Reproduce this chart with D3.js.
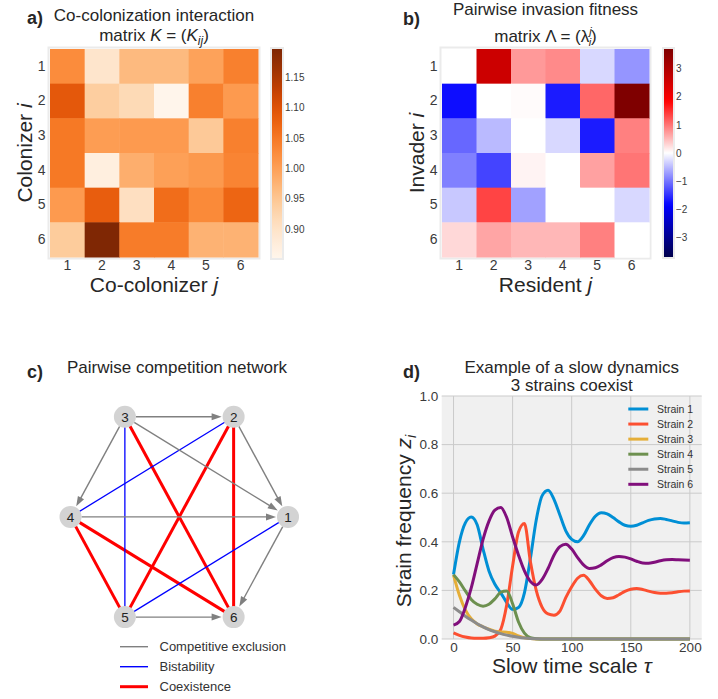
<!DOCTYPE html>
<html>
<head>
<meta charset="utf-8">
<script src="https://cdn.jsdelivr.net/npm/d3@7"></script>
<style>
  body { margin: 0; background: #fff; }
  svg text { font-family: "Liberation Sans", Arial, sans-serif; }
</style>
</head>
<body>
<svg id="fig" width="718" height="699"></svg>
<script>
// ---- data ----
const strainLabels = ['1', '2', '3', '4', '5', '6'];

// co-colonization interaction matrix K (row = colonizer i, col = co-colonizer j)
const kMatrix = [
  [1.025, 0.895, 0.966, 0.966, 0.997, 1.040],
  [1.090, 0.938, 0.918, 0.852, 1.040, 1.007],
  [1.049, 1.004, 1.007, 1.007, 0.945, 1.040],
  [1.049, 0.869, 0.981, 1.000, 1.009, 1.035],
  [1.007, 1.083, 0.907, 1.063, 1.028, 1.073],
  [0.942, 1.197, 1.045, 1.045, 0.976, 0.976]
];
const kTicks = [0.90, 0.95, 1.00, 1.05, 1.10, 1.15];

// pairwise invasion fitness matrix (row = invader i, col = resident j)
const lambdaMatrix = [
  [0.00, 2.58, 0.74, 0.85, -0.28, -0.77],
  [-1.75, 0.00, 0.03, -1.65, 1.10, 3.69],
  [-1.10, -0.50, 0.00, -0.28, -1.65, 0.92],
  [-0.92, -1.35, 0.09, 0.00, 0.68, 1.00],
  [-0.40, 1.35, -0.68, 0.00, 0.00, -0.28],
  [0.28, 0.65, 0.52, 0.52, 0.92, 0.00]
];
const lambdaTicks = [-3, -2, -1, 0, 1, 2, 3];

// pairwise competition network
const exclusionEdges = [['3', '2'], ['3', '4'], ['3', '1'], ['2', '1'], ['4', '1'], ['1', '6'], ['5', '6']];
const bistableEdges = [['2', '4'], ['3', '5'], ['1', '5']];
const coexistEdges = [['3', '6'], ['2', '5'], ['2', '6'], ['4', '5'], ['4', '6']];
const networkLegend = ['Competitive exclusion', 'Bistability', 'Coexistence'];

// slow dynamics
const timePoints = [0, 5, 10, 15, 20, 25, 30, 35, 40, 45, 50, 55, 60, 65, 70, 75, 80, 85, 90, 95, 100,
  105, 110, 115, 120, 125, 130, 135, 140, 145, 150, 155, 160, 165, 170, 175, 180, 185, 190, 195, 200];
const strain1 = [0.265, 0.40, 0.478, 0.502, 0.47, 0.37, 0.28, 0.225, 0.19, 0.15, 0.122, 0.13, 0.19, 0.33, 0.49, 0.59, 0.612,
  0.575, 0.51, 0.445, 0.41, 0.40, 0.425, 0.47, 0.505, 0.52, 0.515, 0.50, 0.482, 0.468, 0.464, 0.468, 0.478, 0.488,
  0.494, 0.496, 0.492, 0.486, 0.48, 0.477, 0.478];
const strain2 = [0.025, 0.015, 0.008, 0.004, 0.003, 0.003, 0.005, 0.012, 0.04, 0.14, 0.30, 0.44, 0.475, 0.32, 0.20, 0.13,
  0.103, 0.098, 0.115, 0.17, 0.215, 0.25, 0.262, 0.24, 0.205, 0.178, 0.167, 0.17, 0.182, 0.196, 0.205, 0.208, 0.204,
  0.197, 0.191, 0.188, 0.188, 0.19, 0.194, 0.197, 0.198];
const strain3 = [0.263, 0.18, 0.12, 0.083, 0.062, 0.05, 0.04, 0.032, 0.029, 0.028, 0.023, 0.013, 0.005, 0.002, 0.0005, 0,
  0, 0, 0, 0, 0, 0, 0, 0, 0, 0, 0, 0, 0, 0, 0, 0, 0, 0, 0, 0, 0, 0, 0, 0, 0];
const strain4 = [0.265, 0.235, 0.198, 0.163, 0.143, 0.135, 0.143, 0.165, 0.193, 0.198, 0.145, 0.07, 0.024, 0.005, 0.001, 0,
  0, 0, 0, 0, 0, 0, 0, 0, 0, 0, 0, 0, 0, 0, 0, 0, 0, 0, 0, 0, 0, 0, 0, 0, 0];
const strain5 = [0.13, 0.112, 0.094, 0.078, 0.063, 0.05, 0.039, 0.03, 0.022, 0.016, 0.011, 0.007, 0.004, 0.002, 0.001, 0,
  0, 0, 0, 0, 0, 0, 0, 0, 0, 0, 0, 0, 0, 0, 0, 0, 0, 0, 0, 0, 0, 0, 0, 0, 0];
const strain6 = [0.057, 0.072, 0.13, 0.21, 0.31, 0.41, 0.485, 0.53, 0.541, 0.50, 0.42, 0.345, 0.28, 0.237, 0.222, 0.245,
  0.29, 0.345, 0.38, 0.39, 0.37, 0.335, 0.305, 0.29, 0.293, 0.305, 0.322, 0.335, 0.34, 0.337, 0.33, 0.32, 0.313,
  0.312, 0.316, 0.322, 0.326, 0.327, 0.326, 0.325, 0.324];
const strainNames = ['Strain 1', 'Strain 2', 'Strain 3', 'Strain 4', 'Strain 5', 'Strain 6'];
const timeTicks = [0, 50, 100, 150, 200];
const freqTicks = [0, 0.2, 0.4, 0.6, 0.8, 1.0];

// ---- styles ----
const strainColors = ['#008fd5', '#fc4f30', '#e5ae38', '#6d904f', '#8b8b8b', '#810f7c'];
const textDark = '#262626';
const tickColor = '#3a3a3a';

const svg = d3.select('#fig');

function label(sel, x, y, txt, opt) {
  opt = opt || {};
  return sel.append('text').attr('x', x).attr('y', y)
    .attr('font-size', opt.size || 17)
    .attr('font-weight', opt.bold ? 'bold' : null)
    .attr('text-anchor', opt.anchor || 'middle')
    .attr('fill', opt.fill || textDark)
    .text(txt);
}

// heatmap with colorbar
function heatmap(matrix, color, box, cb, ticks, fmt) {
  const xb = d3.scaleBand().domain(strainLabels).range([box.x, box.x + box.w]);
  const yb = d3.scaleBand().domain(strainLabels).range([box.y, box.y + box.h]);

  svg.append('rect').attr('x', box.x - 1.5).attr('y', box.y - 1.5)
    .attr('width', box.w + 3).attr('height', box.h + 3)
    .attr('fill', 'none').attr('stroke', '#ebebeb').attr('stroke-width', 2);

  const cells = [];
  matrix.forEach((row, i) => row.forEach((v, j) => cells.push({ r: strainLabels[i], c: strainLabels[j], v: v })));
  svg.append('g').selectAll('rect').data(cells).enter().append('rect')
    .attr('x', d => xb(d.c)).attr('y', d => yb(d.r))
    .attr('width', xb.bandwidth() + 0.5).attr('height', yb.bandwidth() + 0.5)
    .attr('fill', d => color(d.v));

  const gx = svg.append('g').attr('transform', `translate(0,${box.y + box.h})`)
    .call(d3.axisBottom(xb).tickSize(0).tickPadding(3.5));
  const gy = svg.append('g').attr('transform', `translate(${box.x},0)`)
    .call(d3.axisLeft(yb).tickSize(0).tickPadding(4.5));
  [gx, gy].forEach(g => {
    g.select('.domain').remove();
    g.selectAll('text').attr('font-size', 14).attr('fill', tickColor)
      .attr('font-family', '"Liberation Sans", Arial, sans-serif');
  });

  // colorbar
  const dom = color.domain();
  const lo = dom[0], hi = dom[dom.length - 1];
  const cy = d3.scaleLinear().domain([lo, hi]).range([cb.y + cb.h, cb.y]);
  const gid = 'grad' + Math.round(cb.x);
  const grad = svg.append('defs').append('linearGradient').attr('id', gid)
    .attr('x1', 0).attr('y1', 1).attr('x2', 0).attr('y2', 0);
  d3.range(0, 1.0001, 0.02).forEach(t => {
    grad.append('stop').attr('offset', t).attr('stop-color', color(lo + t * (hi - lo)));
  });
  svg.append('rect').attr('x', cb.x - 1).attr('y', cb.y - 1).attr('width', cb.w + 2).attr('height', cb.h + 2)
    .attr('fill', 'none').attr('stroke', '#ebebeb').attr('stroke-width', 2);
  svg.append('rect').attr('x', cb.x).attr('y', cb.y).attr('width', cb.w).attr('height', cb.h)
    .attr('fill', `url(#${gid})`);
  const gc = svg.append('g').attr('transform', `translate(${cb.x + cb.w},0)`)
    .call(d3.axisRight(cy).tickValues(ticks).tickFormat(fmt).tickSize(0).tickPadding(3));
  gc.select('.domain').remove();
  gc.selectAll('text').attr('font-size', 10).attr('fill', tickColor)
    .attr('font-family', '"Liberation Sans", Arial, sans-serif');
}

// ---- panel a ----
const kExt = d3.extent(kMatrix.flat());
const kColor = d3.scaleSequential(d3.interpolateOranges).domain(kExt);
heatmap(kMatrix, kColor, { x: 50, y: 49, w: 208, h: 208 }, { x: 272, y: 49, w: 10, h: 209 }, kTicks, d3.format('.2f'));

label(svg, 27, 24, 'a)', { bold: true, size: 18, anchor: 'start' });
label(svg, 154, 20.7, 'Co-colonization interaction');
const ta = label(svg, 154, 40.7, 'matrix ');
ta.append('tspan').attr('font-style', 'italic').text('K');
ta.append('tspan').text(' = (');
ta.append('tspan').attr('font-style', 'italic').text('K');
ta.append('tspan').attr('font-style', 'italic').attr('font-size', 12).attr('dy', 4).text('ij');
ta.append('tspan').attr('dy', -4).text(')');

const xa = label(svg, 154, 292, 'Co-colonizer ', { size: 21 });
xa.append('tspan').attr('font-style', 'italic').text('j');
const ya = label(svg, 0, 0, 'Colonizer ', { size: 21 }).attr('transform', 'translate(31.5,153) rotate(-90)');
ya.append('tspan').attr('font-style', 'italic').text('i');

// ---- panel b ----
const lMax = d3.max(lambdaMatrix.flat(), v => Math.abs(v));
const seismic = d3.scaleLinear()
  .domain([-lMax, -lMax / 2, 0, lMax / 2, lMax])
  .range(['#00004c', '#0000ff', '#ffffff', '#ff0000', '#7f0000'])
  .clamp(true);
heatmap(lambdaMatrix, seismic, { x: 442, y: 49, w: 207, h: 208 }, { x: 664, y: 49, w: 9, h: 208 }, lambdaTicks, d3.format('d'));

label(svg, 403, 25, 'b)', { bold: true, size: 18, anchor: 'start' });
label(svg, 545.5, 15, 'Pairwise invasion fitness');
const tb = label(svg, 545.5, 41.7, 'matrix \u039B = (\u03BB');
tb.append('tspan').attr('font-style', 'italic').attr('font-size', 11).attr('dy', -7).text('j');
tb.append('tspan').attr('font-style', 'italic').attr('font-size', 11).attr('dx', -3).attr('dy', 11).text('i');
tb.append('tspan').attr('dy', -4).text(')');

const xbLab = label(svg, 545.5, 292, 'Resident ', { size: 21 });
xbLab.append('tspan').attr('font-style', 'italic').text('j');
const ybLab = label(svg, 0, 0, 'Invader ', { size: 21 }).attr('transform', 'translate(423.5,153) rotate(-90)');
ybLab.append('tspan').attr('font-style', 'italic').text('i');

// ---- panel c: network ----
label(svg, 27, 378.3, 'c)', { bold: true, size: 18, anchor: 'start' });
label(svg, 177, 373.3, 'Pairwise competition network');

const netX = d3.scaleLinear().domain([-1, 1]).range([70.5, 288]);
const netY = d3.scaleLinear().domain([-1, 1]).range([632.6, 401.2]);
const nodeR = 11;
const nodePos = {};
strainLabels.forEach((s, i) => {
  const a = 2 * Math.PI * i / strainLabels.length;
  nodePos[s] = { x: netX(Math.cos(a)), y: netY(Math.sin(a)) };
});

const gNet = svg.append('g');
gNet.selectAll('line.co').data(coexistEdges).enter().append('line')
  .attr('x1', d => nodePos[d[0]].x).attr('y1', d => nodePos[d[0]].y)
  .attr('x2', d => nodePos[d[1]].x).attr('y2', d => nodePos[d[1]].y)
  .attr('stroke', '#ff0000').attr('stroke-width', 3);
gNet.selectAll('line.bi').data(bistableEdges).enter().append('line')
  .attr('x1', d => nodePos[d[0]].x).attr('y1', d => nodePos[d[0]].y)
  .attr('x2', d => nodePos[d[1]].x).attr('y2', d => nodePos[d[1]].y)
  .attr('stroke', '#0000ff').attr('stroke-width', 1.3);

// arrows for competitive exclusion (pointing to the winner)
const headLen = 10, headW = 3.5;
exclusionEdges.forEach(e => {
  const s = nodePos[e[0]], t = nodePos[e[1]];
  const dx = t.x - s.x, dy = t.y - s.y, L = Math.hypot(dx, dy);
  const ux = dx / L, uy = dy / L;
  const tipX = t.x - ux * (nodeR + 1), tipY = t.y - uy * (nodeR + 1);
  const bX = tipX - ux * headLen, bY = tipY - uy * headLen;
  gNet.append('line')
    .attr('x1', s.x + ux * nodeR).attr('y1', s.y + uy * nodeR)
    .attr('x2', bX + ux * 2).attr('y2', bY + uy * 2)
    .attr('stroke', '#808080').attr('stroke-width', 1.4);
  gNet.append('path')
    .attr('d', `M${tipX},${tipY}L${bX - uy * headW},${bY + ux * headW}L${bX + uy * headW},${bY - ux * headW}Z`)
    .attr('fill', '#808080');
});

const gNodes = gNet.selectAll('g.node').data(strainLabels).enter().append('g')
  .attr('transform', d => `translate(${nodePos[d].x},${nodePos[d].y})`);
gNodes.append('circle').attr('r', nodeR).attr('fill', '#d3d3d3');
gNodes.append('text').attr('text-anchor', 'middle').attr('dy', '0.36em')
  .attr('font-size', 13.5).attr('fill', '#222').text(d => d);

// network legend
const legStyles = [
  { c: '#808080', w: 1.4 },
  { c: '#0000ff', w: 1.4 },
  { c: '#ff0000', w: 3 }
];
const netLegY = d3.scalePoint().domain(networkLegend).range([646.7, 686.7]);
networkLegend.forEach((name, i) => {
  svg.append('line').attr('x1', 120).attr('x2', 148)
    .attr('y1', netLegY(name)).attr('y2', netLegY(name))
    .attr('stroke', legStyles[i].c).attr('stroke-width', legStyles[i].w);
  label(svg, 159.5, netLegY(name), name, { size: 13, anchor: 'start', fill: '#333' }).attr('dy', '0.36em');
});

// ---- panel d: dynamics ----
label(svg, 403, 378.3, 'd)', { bold: true, size: 18, anchor: 'start' });
label(svg, 571.7, 373.3, 'Example of a slow dynamics');
label(svg, 571.7, 390.7, '3 strains coexist');

const dx = d3.scaleLinear().domain([-10, 210]).range([441.7, 701.7]);
const dy = d3.scaleLinear().domain([0, 1]).range([639, 396]);

svg.append('rect').attr('x', dx(-10)).attr('y', dy(1)).attr('width', dx(210) - dx(-10)).attr('height', dy(0) - dy(1))
  .attr('fill', '#f0f0f0');
const gGrid = svg.append('g');
gGrid.selectAll('line.v').data(timeTicks).enter().append('line')
  .attr('x1', d => dx(d)).attr('x2', d => dx(d)).attr('y1', dy(0)).attr('y2', dy(1))
  .attr('stroke', '#cbcbcb').attr('stroke-width', 1);
gGrid.selectAll('line.h').data(freqTicks).enter().append('line')
  .attr('y1', d => dy(d)).attr('y2', d => dy(d)).attr('x1', dx(-10)).attr('x2', dx(210))
  .attr('stroke', '#cbcbcb').attr('stroke-width', 1);

const gdx = svg.append('g').attr('transform', `translate(0,${dy(0)})`)
  .call(d3.axisBottom(dx).tickValues(timeTicks).tickFormat(d3.format('d')).tickSize(0).tickPadding(3));
const gdy = svg.append('g').attr('transform', `translate(${dx(-10)},0)`)
  .call(d3.axisLeft(dy).tickValues(freqTicks).tickFormat(d3.format('.1f')).tickSize(0).tickPadding(3.5));
[gdx, gdy].forEach(g => {
  g.select('.domain').remove();
  g.selectAll('text').attr('font-size', 13.5).attr('fill', tickColor)
    .attr('font-family', '"Liberation Sans", Arial, sans-serif');
});

const series = [strain1, strain2, strain3, strain4, strain5, strain6];
const line = d3.line()
  .x((d, i) => dx(timePoints[i]))
  .y(d => dy(d))
  .curve(d3.curveMonotoneX);
svg.append('g').selectAll('path').data(series).enter().append('path')
  .attr('d', line)
  .attr('fill', 'none')
  .attr('stroke', (d, i) => strainColors[i])
  .attr('stroke-width', 3)
  .attr('stroke-linejoin', 'round');

// legend
const legY = d3.scalePoint().domain(strainNames).range([409, 484.3]);
strainNames.forEach((name, i) => {
  svg.append('line').attr('x1', 628.3).attr('x2', 648.3).attr('y1', legY(name)).attr('y2', legY(name))
    .attr('stroke', strainColors[i]).attr('stroke-width', 3);
  label(svg, 657, legY(name), name, { size: 10.5, anchor: 'start', fill: '#333' }).attr('dy', '0.36em');
});

const xdLab = label(svg, 571.7, 673, 'Slow time scale ', { size: 21 });
xdLab.append('tspan').attr('font-style', 'italic').text('\u03C4');
const ydLab = label(svg, 0, 0, 'Strain frequency ', { size: 21 }).attr('transform', 'translate(411,521) rotate(-90)');
ydLab.append('tspan').attr('font-style', 'italic').text('z');
ydLab.append('tspan').attr('font-style', 'italic').attr('font-size', 14).attr('dy', 5).text('i');
</script>
</body>
</html>
